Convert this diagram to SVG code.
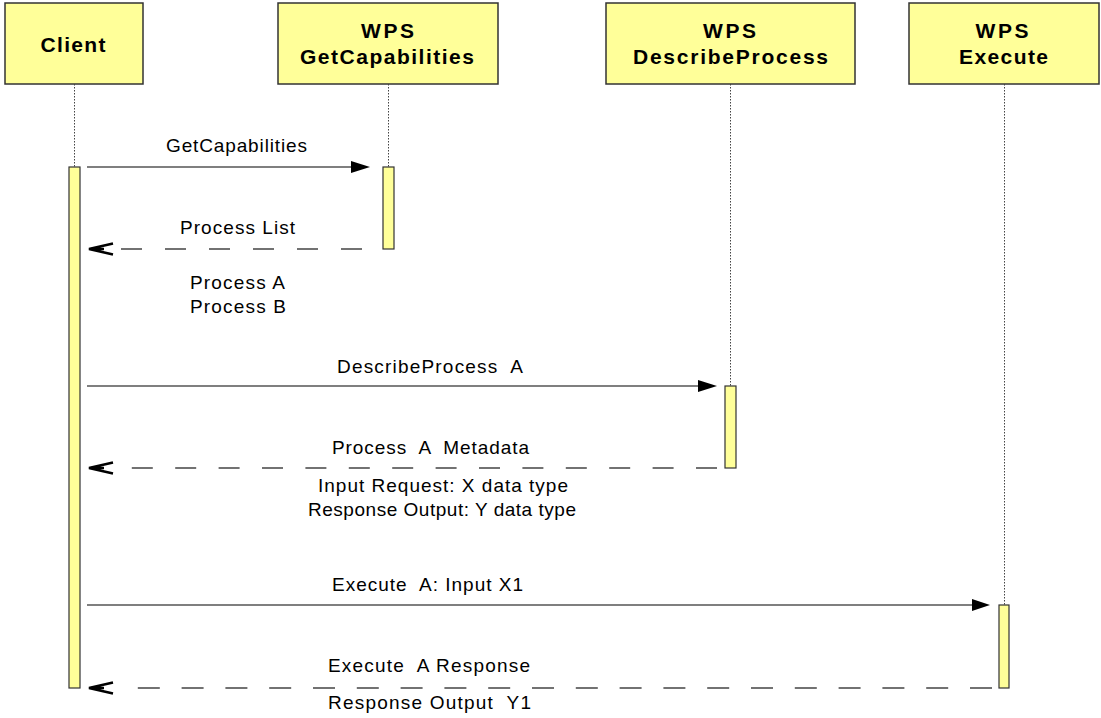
<svg xmlns="http://www.w3.org/2000/svg" width="1101" height="718" viewBox="0 0 1101 718">
<style>
.box{fill:#FFFF99;stroke:#333;stroke-width:1.5}
.act{fill:#FFFF99;stroke:#333;stroke-width:1.2}
.life{stroke:#444;stroke-width:1;stroke-dasharray:1.5 1.5;fill:none}
.hdr{font-family:"Liberation Sans",Arial,sans-serif;font-weight:bold;font-size:21px;fill:#000;text-anchor:middle}
.lbl{font-family:"Liberation Sans",Arial,sans-serif;font-size:19px;fill:#000;text-anchor:middle}
.msg{stroke:#555;stroke-width:1.5;fill:none}
.ret{stroke:#444;stroke-width:1.5;fill:none}
.open{stroke:#000;stroke-width:2.5;fill:none;stroke-linejoin:miter}
</style>
<rect width="1101" height="718" fill="#fff"/>
<g id="client">
<rect class="box" x="5" y="3" width="138" height="81"/>
<text class="hdr" x="73" y="52" textLength="65" lengthAdjust="spacing">Client</text>
<line class="life" x1="74.5" y1="84" x2="74.5" y2="167"/>
<rect class="act" x="69" y="167" width="11" height="521"/>
</g>
<g id="getcapabilities">
<rect class="box" x="278" y="3" width="220" height="81"/>
<text class="hdr" x="387.5" y="38" textLength="53" lengthAdjust="spacing">WPS</text>
<text class="hdr" x="387" y="64" textLength="174" lengthAdjust="spacing">GetCapabilities</text>
<line class="life" x1="388.5" y1="84" x2="388.5" y2="167"/>
<rect class="act" x="383" y="167" width="11" height="82"/>
</g>
<g id="describeprocess">
<rect class="box" x="606" y="3" width="249" height="81"/>
<text class="hdr" x="729.5" y="38" textLength="53" lengthAdjust="spacing">WPS</text>
<text class="hdr" x="730.5" y="64" textLength="195" lengthAdjust="spacing">DescribeProcess</text>
<line class="life" x1="730.5" y1="84" x2="730.5" y2="386"/>
<rect class="act" x="725" y="386" width="11" height="82"/>
</g>
<g id="execute">
<rect class="box" x="909" y="3" width="190" height="81"/>
<text class="hdr" x="1002" y="38" textLength="53" lengthAdjust="spacing">WPS</text>
<text class="hdr" x="1003.5" y="64" textLength="89" lengthAdjust="spacing">Execute</text>
<line class="life" x1="1004.5" y1="84" x2="1004.5" y2="605"/>
<rect class="act" x="999" y="605" width="10" height="83"/>
</g>
<g id="connectors">
<line class="msg" x1="87" y1="167" x2="360" y2="167"/>
<polygon points="351,161 370,167 351,173" fill="#000"/>
<path class="ret" d="M362 249 H115" stroke-dasharray="21 23"/>
<path class="open" d="M113 243.5 L89 249 L113 254.5 M89 249 H104"/>
<line class="msg" x1="87" y1="386" x2="707" y2="386"/>
<polygon points="698,380 717,386 698,392" fill="#000"/>
<path class="ret" d="M717 468 H115" stroke-dasharray="21 22.4"/>
<path class="open" d="M113 462.5 L89 468 L113 473.5 M89 468 H104"/>
<line class="msg" x1="87" y1="605" x2="980" y2="605"/>
<polygon points="972,599 990,605 972,611" fill="#000"/>
<path class="ret" d="M992 688 H128" stroke-dasharray="22 21.8"/>
<path class="open" d="M113 682.5 L89 688 L113 693.5 M89 688 H104"/>
</g>
<g id="labels">
<text class="lbl" x="236.5" y="152" textLength="141" lengthAdjust="spacing">GetCapabilities</text>
<text class="lbl" x="237.5" y="234" textLength="115" lengthAdjust="spacing">Process List</text>
<text class="lbl" x="237.5" y="289" textLength="95" lengthAdjust="spacing">Process A</text>
<text class="lbl" x="238" y="313" textLength="96" lengthAdjust="spacing">Process B</text>
<text class="lbl" x="430" y="373" textLength="186" lengthAdjust="spacing" xml:space="preserve">DescribeProcess  A</text>
<text class="lbl" x="430.5" y="454" textLength="197" lengthAdjust="spacing" xml:space="preserve">Process  A  Metadata</text>
<text class="lbl" x="443" y="492" textLength="250" lengthAdjust="spacing">Input Request: X data type</text>
<text class="lbl" x="442" y="516" textLength="268" lengthAdjust="spacing">Response Output: Y data type</text>
<text class="lbl" x="427.5" y="591" textLength="191" lengthAdjust="spacing" xml:space="preserve">Execute  A: Input X1</text>
<text class="lbl" x="429" y="672" textLength="202" lengthAdjust="spacing" xml:space="preserve">Execute  A Response</text>
<text class="lbl" x="429.5" y="709" textLength="203" lengthAdjust="spacing" xml:space="preserve">Response Output  Y1</text>
</g>
</svg>
